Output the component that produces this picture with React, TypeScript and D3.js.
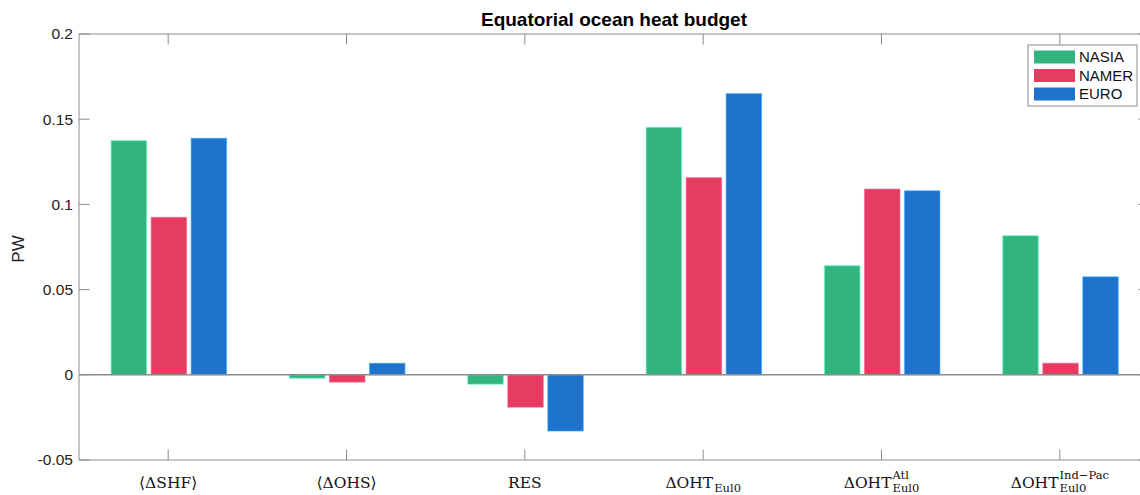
import React, { useRef, useEffect } from 'react';
import * as d3 from 'd3';

const categories = ['SHF', 'OHS', 'RES', 'OHT', 'OHTAtl', 'OHTIndPac'];
const labelMain = ['⟨ΔSHF⟩', '⟨ΔOHS⟩', 'RES', 'ΔOHT', 'ΔOHT', 'ΔOHT'];
const labelSub = ['', '', '', 'Eul0', 'Eul0', 'Eul0'];
const labelSup = ['', '', '', '', 'Atl', 'Ind−Pac'];
const seriesNames = ['NASIA', 'NAMER', 'EURO'];
const nasia = [0.1374, -0.002, -0.0055, 0.1452, 0.064, 0.0816];
const namer = [0.0924, -0.0043, -0.019, 0.1157, 0.109, 0.0068];
const euro = [0.1388, 0.0068, -0.033, 0.165, 0.108, 0.0575];
const seriesColors = ['#33b37e', '#e73c61', '#1f72cc'];
const yTicks = [-0.05, 0, 0.05, 0.1, 0.15, 0.2];
const yTickLabels = ['-0.05', '0', '0.05', '0.1', '0.15', '0.2'];
const title = 'Equatorial ocean heat budget';
const yLabel = 'PW';

const W = 1140, H = 495;
const left = 79, right = 1149, top = 34, bottom = 460;
const axisColor = '#8c8c8c';
const sans = 'Helvetica, Arial, "Liberation Sans", sans-serif';
const serif = '"DejaVu Serif", "Liberation Serif", serif';

export default function App() {
  const ref = useRef<SVGSVGElement>(null);
  useEffect(() => {
    const svg = d3.select(ref.current);
    svg.selectAll('*').remove();
    const series = [nasia, namer, euro];

    const x = d3.scaleBand<string>().domain(categories).range([left, right]).padding(0);
    const xs = d3.scaleBand<string>().domain(seriesNames).range([-57.75, 57.75]).paddingInner(0.1125).paddingOuter(0);
    const y = d3.scaleLinear().domain([-0.05, 0.2]).range([bottom, top]);

    const g = svg.append('g');
    // bars
    series.forEach((vals, si) => {
      g.selectAll(null)
        .data(vals)
        .enter()
        .append('rect')
        .attr('x', (d, i) => x(categories[i])! + x.bandwidth() / 2 + 0.7 + xs(seriesNames[si])!)
        .attr('width', xs.bandwidth())
        .attr('y', d => y(Math.max(0, d)))
        .attr('height', d => Math.abs(y(d) - y(0)))
        .attr('fill', seriesColors[si])
        .attr('stroke', d3.color(seriesColors[si])!.brighter(1.2).formatHex())
        .attr('stroke-opacity', 0.6)
        .attr('stroke-width', 1);
    });

    // zero baseline
    g.append('line')
      .attr('x1', left).attr('x2', right)
      .attr('y1', y(0)).attr('y2', y(0))
      .attr('stroke', axisColor).attr('stroke-width', 1.5);

    // axes box
    const box = g.append('g').attr('stroke', axisColor).attr('stroke-width', 1).attr('fill', 'none');
    box.append('line').attr('x1', left).attr('x2', right).attr('y1', top).attr('y2', top);
    box.append('line').attr('x1', left).attr('x2', right).attr('y1', bottom).attr('y2', bottom);
    box.append('line').attr('x1', left).attr('x2', left).attr('y1', top).attr('y2', bottom);
    box.append('line').attr('x1', right).attr('x2', right).attr('y1', top).attr('y2', bottom);

    const tl = 10.5;
    // y ticks
    yTicks.forEach((t, i) => {
      box.append('line').attr('x1', left).attr('x2', left + tl).attr('y1', y(t)).attr('y2', y(t));
      box.append('line').attr('x1', right).attr('x2', right - tl).attr('y1', y(t)).attr('y2', y(t));
      g.append('text')
        .attr('x', left - 6).attr('y', y(t)).attr('dy', '0.35em')
        .attr('text-anchor', 'end')
        .attr('font-family', sans).attr('font-size', 15.5).attr('fill', '#222')
        .text(yTickLabels[i]);
    });

    // x ticks & labels
    categories.forEach((c, i) => {
      const cx = x(c)! + x.bandwidth() / 2;
      box.append('line').attr('x1', cx).attr('x2', cx).attr('y1', bottom).attr('y2', bottom - tl);
      box.append('line').attr('x1', cx).attr('x2', cx).attr('y1', top).attr('y2', top + tl);
      const lg = g.append('g');
      const base = 488;
      const mt = lg.append('text').attr('x', 0).attr('y', base)
        .attr('font-family', serif).attr('font-size', 15.5).attr('fill', '#111')
        .text(labelMain[i]);
      const mw = (mt.node() as SVGTextElement).getComputedTextLength();
      let extra = 0;
      if (labelSub[i]) {
        const st = lg.append('text').attr('x', mw + 1).attr('y', base + 4)
          .attr('font-family', serif).attr('font-size', 11.5).attr('fill', '#111')
          .text(labelSub[i]);
        extra = Math.max(extra, (st.node() as SVGTextElement).getComputedTextLength() + 1);
      }
      if (labelSup[i]) {
        const pt = lg.append('text').attr('x', mw + 1).attr('y', base - 9)
          .attr('font-family', serif).attr('font-size', 11.5).attr('fill', '#111')
          .text(labelSup[i]);
        extra = Math.max(extra, (pt.node() as SVGTextElement).getComputedTextLength() + 1);
      }
      const total = mw + extra;
      lg.attr('transform', `translate(${cx - total / 2},0)`);
    });

    // title
    g.append('text')
      .attr('x', (left + right) / 2).attr('y', 26)
      .attr('text-anchor', 'middle')
      .attr('font-family', sans).attr('font-weight', 'bold').attr('font-size', 19).attr('fill', '#000')
      .text(title);

    // y label
    g.append('text')
      .attr('transform', `translate(24,${(top + bottom) / 2 + 2}) rotate(-90)`)
      .attr('text-anchor', 'middle')
      .attr('font-family', sans).attr('font-size', 17).attr('fill', '#222')
      .text(yLabel);

    // legend
    const lx = 1028, ly = 45, lw = 109, lh = 61;
    const leg = g.append('g');
    leg.append('rect').attr('x', lx).attr('y', ly).attr('width', lw).attr('height', lh)
      .attr('fill', '#fff').attr('stroke', axisColor).attr('stroke-width', 1);
    seriesNames.forEach((n, i) => {
      const ry = ly + 12 + i * 18.5;
      leg.append('rect').attr('x', lx + 6).attr('y', ry - 6.5).attr('width', 41).attr('height', 13)
        .attr('fill', seriesColors[i]);
      leg.append('text').attr('x', lx + 51).attr('y', ry).attr('dy', '0.36em')
        .attr('font-family', sans).attr('font-size', 15).attr('fill', '#111')
        .text(n);
    });
  }, []);

  return (
    <svg ref={ref} width={W} height={H}
      style={{ position: 'absolute', left: 0, top: 0, display: 'block', background: '#fff' }} />
  );
}
